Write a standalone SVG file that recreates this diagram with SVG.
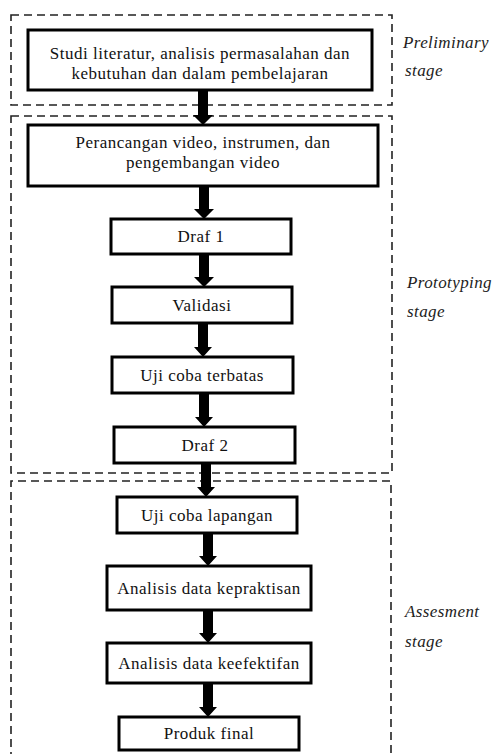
<svg xmlns="http://www.w3.org/2000/svg" width="492" height="754" viewBox="0 0 492 754">
<style>
.stage{fill:none;stroke:#222;stroke-width:1.6;stroke-dasharray:8 5}
.box{fill:#fff;stroke:#000;stroke-width:3}
.t{font-family:"Liberation Serif","Times New Roman",serif;font-size:17px;letter-spacing:0.5px;fill:#111;text-anchor:middle}
.lbl{font-family:"Liberation Serif","Times New Roman",serif;font-size:17px;letter-spacing:0.4px;font-style:italic;fill:#222}
.arr{fill:#000}
</style>
<rect width="492" height="754" fill="#fff"/>
<g id="stages">
<rect class="stage" x="11" y="15" width="381" height="90"/>
<rect class="stage" x="11" y="116" width="381" height="357"/>
<path class="stage" d="M11 760 V481 H391 V760"/>
</g>
<g id="labels">
<text class="lbl" x="403" y="48">Preliminary</text>
<text class="lbl" x="405" y="76">stage</text>
<text class="lbl" x="407" y="288">Prototyping</text>
<text class="lbl" x="407" y="317">stage</text>
<text class="lbl" x="405" y="617">Assesment</text>
<text class="lbl" x="405" y="647">stage</text>
</g>
<g id="connectors">
<path class="arr" d="M198 90 H208 V115 H213 L203 125 L193 115 H198 Z"/>
<path class="arr" d="M199 186 H209 V209 H214 L204 219 L194 209 H199 Z"/>
<path class="arr" d="M199 254 H209 V277 H214 L204 287 L194 277 H199 Z"/>
<path class="arr" d="M198 323 H208 V347 H212 L203 357 L194 347 H198 Z"/>
<path class="arr" d="M199 393 H209 V417 H213 L204 427 L195 417 H199 Z"/>
<path class="arr" d="M201 463 H211 V487 H215 L206 497 L197 487 H201 Z"/>
<path class="arr" d="M203 533 H213 V556 H217 L208 566 L199 556 H203 Z"/>
<path class="arr" d="M203 610 H213 V633 H217 L208 643 L199 633 H203 Z"/>
<path class="arr" d="M203 683 H213 V707 H217 L208 717 L199 707 H203 Z"/>
</g>
<g id="n1">
<rect class="box" x="28" y="30" width="344" height="60"/>
<text class="t" x="200" y="59">Studi literatur, analisis permasalahan dan</text>
<text class="t" x="200" y="79">kebutuhan dan dalam pembelajaran</text>
</g>
<g id="n2">
<rect class="box" x="28" y="125" width="350" height="61"/>
<text class="t" x="203" y="148">Perancangan video, instrumen, dan</text>
<text class="t" x="203" y="168">pengembangan video</text>
</g>
<g id="n3">
<rect class="box" x="111" y="219" width="180" height="35"/>
<text class="t" x="201" y="242">Draf 1</text>
</g>
<g id="n4">
<rect class="box" x="112" y="287" width="180" height="36"/>
<text class="t" x="202" y="311">Validasi</text>
</g>
<g id="n5">
<rect class="box" x="112" y="357" width="181" height="36"/>
<text class="t" x="202" y="381">Uji coba terbatas</text>
</g>
<g id="n6">
<rect class="box" x="114" y="427" width="181" height="36"/>
<text class="t" x="205" y="451">Draf 2</text>
</g>
<g id="n7">
<rect class="box" x="117" y="497" width="180" height="36"/>
<text class="t" x="207" y="521">Uji coba lapangan</text>
</g>
<g id="n8">
<rect class="box" x="107" y="566" width="204" height="44"/>
<text class="t" x="209" y="594">Analisis data kepraktisan</text>
</g>
<g id="n9">
<rect class="box" x="107" y="643" width="204" height="40"/>
<text class="t" x="209" y="669">Analisis data keefektifan</text>
</g>
<g id="n10">
<rect class="box" x="119" y="717" width="180" height="33"/>
<text class="t" x="209" y="739">Produk final</text>
</g>
</svg>
